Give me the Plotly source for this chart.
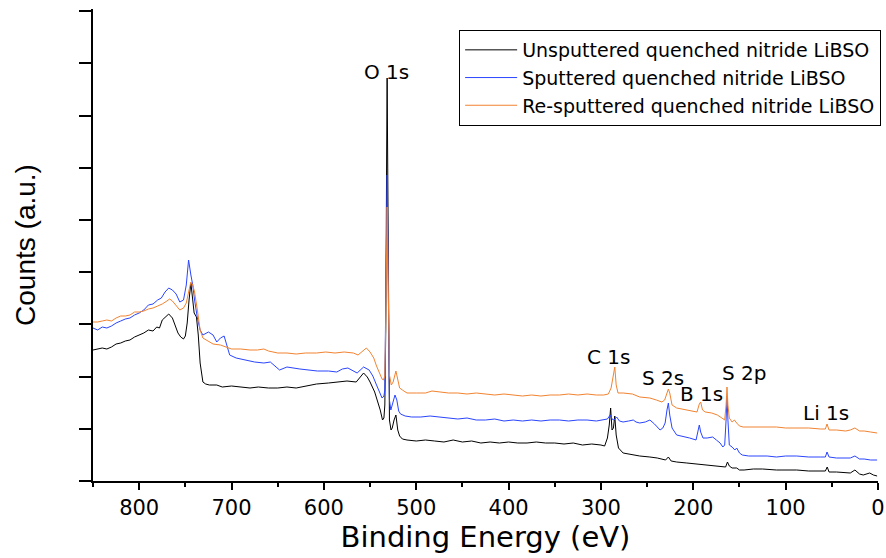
import plotly.graph_objects as go

# ---- data (binding energy in eV, counts in a.u.) ----
E_black = [850,845,840,835,830,825,820,815,810,805,800,795,790,785,781,778,775,772,768,764,761,758,755,752,750,748,746,744,742,740.5,738,736,734,731,728,724,716,710,700,690,680,671,660,650,640,630,620,608,595,586,575,565,561,557,553,550,545,542,539,536.5,535,534,533,532,531.5,531,530,529,527.3,526,524,522,520,518,515,510,500,490,480,470,460,450,440,430,420,410,400,390,380,370,360,350,340,330,320,310,300,296,293,291,289.5,288,286.5,285,283.5,281,276,266,258,247,239,230,227,224,218,207,197,187,178,168,165,163,161,158,153,150,145,135,125,110,95,88,75,60,57,55,53,45,35,30,25,20,16,12,9,5,1]
C_black = [131,132,133,132,134,137,138,140,141,144,146,148,151,150,154,153,161,164,167,163,156,148,144,142,145,158,181,198,181,168,164,146,118,99,97,96,96,94,95,94,93,94,93,93,94,93,95,97,98,99,100,99,103,108,104,99,89,81,71,61,63,76,151,331,403,331,151,61,51,53,61,66,51,45,42,41,40,41,40,39,41,39,40,38,39,38,39,38,38,39,38,38,37,38,36,37,36,35,43,56,73,51,53,65,46,33,28,26,25,24,23,21,24,20,19,18,17,16,15,14,14,19,15,13,13,11,11,12,12,11,11,11,10,10,10,14,9,9,8,8,11,7,6,7,8,6,5]

E_blue = [850,845,840,835,830,825,820,815,810,805,800,795,790,785,780,776,772,768,764,760,756,752,749,746.5,744,742,740,737,734,731,725,720,716,712,708,705,702,695,685,675,665,658,648,640,626,615,607,595,586,580,574,564,557,551,547,543,539,537,535,534,533,532,531.5,531,530,529,527.5,526,523,521,519,517,512,505,495,485,475,465,455,445,435,425,415,405,395,385,375,365,355,345,335,325,315,305,298,293,290,288,286,283,280,276,270,265,262,258,252,247,242,236,233,230.5,228.5,227,225.5,223,218,212,204,197,195,193.5,192,189.5,185,179,175,171,168,166,164.5,163.5,162.5,161,158,155,153,150,147,140,130,120,110,100,88,75,62,57,55.2,53,45,35,30,25,20,15,8,1]
C_blue = [153,151,154,153,155,158,160,162,163,166,168,171,176,177,181,183,189,193,191,187,179,181,196,221,206,196,181,163,151,146,149,146,139,143,145,136,126,123,121,119,118,119,111,114,112,111,110,110,109,112,113,108,114,111,105,96,87,83,85,91,181,281,306,261,151,81,71,76,86,81,70,67,65,64,64,65,64,63,62,63,61,61,62,60,61,60,61,60,61,61,60,61,61,60,61,62,66,62,61,64,60,59,60,61,59,58,59,61,57,51,53,58,71,78,66,53,46,45,43,41,49,56,49,43,43,44,41,38,34,36,61,84,61,36,34,31,33,28,26,25,25,25,24,25,25,24,24,24,29,24,23,23,23,25,22,22,21,21]

E_orange = [850,845,840,835,830,825,820,815,810,805,800,795,790,785,780,775,770,767,764,760,756,752,749,746,744,742,740,737,734,731,726,720,712,705,700,690,680,672,665,660,650,640,630,620,608,598,588,578,568,563,558,554,550,546,543,540,537,535.5,534,533,532,531.5,531,530,529,527,525,522,520,518,515,510,500,490,483,475,465,455,445,435,425,415,405,395,385,375,365,355,345,335,325,315,305,297,292,289,286.5,285,283.5,281.5,276,266,258,247,240,234,231,229,227,225.5,223,218,212,207,200,196,193.5,192,190,187,180,174,169,166,164.5,163.5,162.5,161,158,155.5,153,150,146,135,124,110,100,88,75,62,57,55.2,53,45,35,30,25,20,15,8,1]
C_orange = [159,159,160,161,160,163,165,165,166,169,169,170,172,173,175,177,180,182,180,176,171,173,178,191,199,196,189,171,151,143,140,137,136,134,132,132,131,131,132,130,128,128,127,128,128,129,128,129,128,126,130,133,129,123,115,109,102,101,105,161,251,274,241,161,106,96,99,110,101,93,91,88,88,88,90,89,88,88,87,88,87,86,87,86,85,86,85,86,86,87,86,87,86,86,87,93,109,114,96,88,88,87,84,83,81,79,81,86,92,88,76,73,72,71,70,69,77,79,71,69,68,66,63,61,76,94,76,63,59,61,58,55,54,54,54,54,53,53,53,52,52,57,51,51,50,51,53,50,50,49,48]

series_names = ["Unsputtered quenched nitride LiBSO",
                "Sputtered quenched nitride LiBSO",
                "Re-sputtered quenched nitride LiBSO"]
series_colors = ["#000000", "#2a45ff", "#f28330"]

peak_labels = ["O 1s", "C 1s", "S 2s", "B 1s", "S 2p", "Li 1s"]
peak_label_x = [531.7, 291.3, 232.8, 190.6, 145.1, 56.3]
peak_label_y = [409, 124, 103, 87, 108, 68]

x_range = [850, 0]
y_range = [0, 472]

fig = go.Figure()
for E, C, name, col in zip([E_black, E_blue, E_orange],
                           [C_black, C_blue, C_orange],
                           series_names, series_colors):
    fig.add_trace(go.Scatter(x=E, y=C, mode="lines", name=name,
                             line=dict(color=col, width=1)))

for t, xv, yv in zip(peak_labels, peak_label_x, peak_label_y):
    fig.add_annotation(x=xv, y=yv, text=t, showarrow=False,
                       font=dict(family="DejaVu Sans", size=20, color="black"),
                       xanchor="center", yanchor="middle")

axis_font = dict(family="DejaVu Sans", size=21, color="black")

fig.update_layout(
    width=886, height=558,
    margin=dict(l=93, r=8, t=9, b=77, autoexpand=False),
    paper_bgcolor="white", plot_bgcolor="white",
    showlegend=True,
    legend=dict(x=1.004, xanchor="right", y=0.9555, yanchor="top",
                bgcolor="white", bordercolor="black", borderwidth=1,
                font=dict(family="DejaVu Sans", size=19, color="black"),
                itemwidth=52, tracegroupgap=0),
    xaxis=dict(range=x_range, showgrid=False, zeroline=False,
               showline=True, linecolor="black", linewidth=1.5,
               ticks="outside", ticklen=7, tickwidth=1.5, tickcolor="black",
               tick0=0, dtick=100, tickfont=axis_font,
               minor=dict(ticks="outside", ticklen=4, tickwidth=1.5,
                          tickcolor="black", dtick=50, tick0=0, showgrid=False),
               title=dict(text="Binding Energy (eV)", standoff=8,
                          font=dict(family="DejaVu Sans", size=29, color="black"))),
    yaxis=dict(range=y_range, showgrid=False, zeroline=False,
               showline=True, linecolor="black", linewidth=1.5,
               ticks="outside", ticklen=12, tickwidth=1.5, tickcolor="black",
               tickmode="linear", tick0=0, dtick=52.2, showticklabels=False,
               title=dict(text="Counts (a.u.)", standoff=35,
                          font=dict(family="Liberation Sans", size=28, color="black"))),
    xaxis2=dict(range=x_range, overlaying="x", side="top", anchor="y",
                showgrid=False, zeroline=False, showline=True,
                linecolor="black", linewidth=1.5,
                ticks="inside", ticklen=7, tickwidth=1.5, tickcolor="black",
                tick0=0, dtick=50, showticklabels=False),
    yaxis2=dict(range=y_range, overlaying="y", side="right", anchor="x",
                showgrid=False, zeroline=False, showline=True,
                linecolor="black", linewidth=1.5,
                ticks="inside", ticklen=7, tickwidth=1.5, tickcolor="black",
                tickmode="linear", tick0=0, dtick=52.2, showticklabels=False),
)

fig.write_html("out.html",
               config={"displayModeBar": False},
               post_script="document.body.style.margin='0px';"
                           "document.body.style.padding='0px';"
                           "document.body.style.overflow='hidden';")
